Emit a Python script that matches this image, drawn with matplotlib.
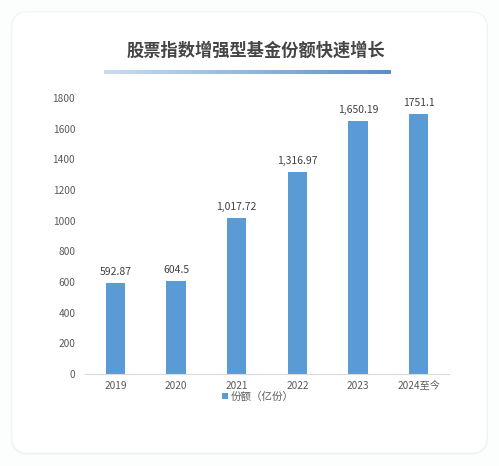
import matplotlib.pyplot as plt
import numpy as np
from matplotlib.patches import FancyBboxPatch
from matplotlib.colors import LinearSegmentedColormap

plt.rcParams['font.family'] = ['Noto Sans CJK SC', 'DejaVu Sans']

title = "股票指数增强型基金份额快速增长"
years = ["2019", "2020", "2021", "2022", "2023", "2024至今"]
# bar heights as drawn in the picture, labels as printed
shares = [592.87, 604.5, 1017.72, 1316.97, 1650.19, 1695]
share_labels = ["592.87", "604.5", "1,017.72", "1,316.97", "1,650.19", "1751.1"]
legend_label = "份额（亿份）"
yticks = [0, 200, 400, 600, 800, 1000, 1200, 1400, 1600, 1800]

W, H = 499, 466
fig = plt.figure(figsize=(W / 100, H / 100), dpi=100)
fig.patch.set_facecolor("#fcfdfd")

# background card in pixel coords
bg = fig.add_axes([0, 0, 1, 1])
bg.axis("off")
bg.add_patch(FancyBboxPatch((11, 11.5), 477, 443, boxstyle="round,pad=0,rounding_size=17",
                            fc="#eef3f6", ec="none"))
bg.add_patch(FancyBboxPatch((12, 12), 475, 441, boxstyle="round,pad=0,rounding_size=16",
                            fc="white", ec="#f0f4f7", lw=0.6))
bg.text(256, 51, title, ha="center", va="center", fontsize=12.4,
        fontweight="bold", color="#454545")
grad = LinearSegmentedColormap.from_list("g", ["#c9def0", "#8fb8e0", "#5a8fc8"])
bg.imshow(np.linspace(0, 1, 256)[None, :], cmap=grad, aspect="auto",
          extent=[104, 391, 74, 70], zorder=3)
bg.set_xlim(0, W)
bg.set_ylim(H, 0)

ax = fig.add_axes([85 / W, 1 - 374 / H, 364 / W, 276 / H])
ax.patch.set_alpha(0)
x = np.arange(len(years))
bars = ax.bar(x, shares, width=0.32, color="#5b9bd5", label=legend_label)
for b, t in zip(bars, share_labels):
    ax.annotate(t, (b.get_x() + b.get_width() / 2, b.get_height()),
                xytext=(0, 4.5), textcoords="offset points",
                ha="center", va="bottom", fontsize=7.5, color="#404040")

ax.set_xlim(-0.5, len(years) - 0.5)
ax.set_ylim(0, 1800)
ax.set_yticks(yticks)
ax.set_xticks(x)
ax.set_xticklabels(years)
ax.tick_params(axis="both", length=0, labelsize=7.3, labelcolor="#595959")
ax.tick_params(axis="y", pad=7)
ax.tick_params(axis="x", pad=5)
for s in ["top", "right", "left"]:
    ax.spines[s].set_visible(False)
ax.spines["bottom"].set_color("#d9d9d9")
ax.spines["bottom"].set_linewidth(0.8)

ax.legend(loc="center", bbox_to_anchor=(258 / W, 1 - 397 / H), bbox_transform=fig.transFigure,
          frameon=False, fontsize=7.6, handlelength=0.5, handleheight=0.5,
          handletextpad=0.3, labelcolor="#595959")

fig.savefig("out.png", dpi=100, facecolor=fig.get_facecolor())
